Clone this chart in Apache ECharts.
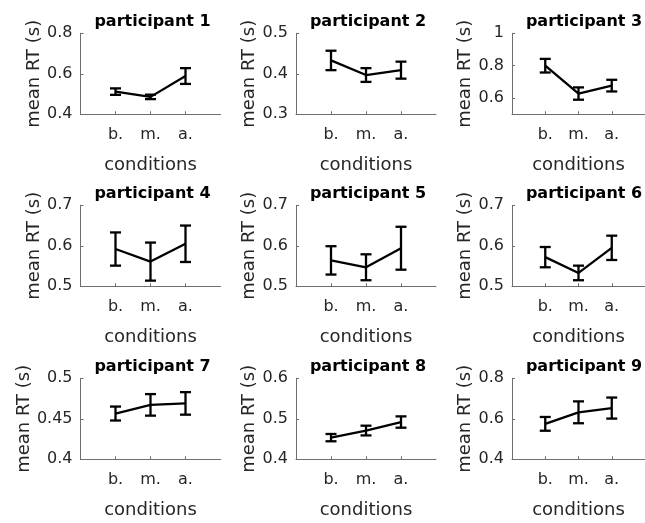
<!DOCTYPE html>
<html>
<head>
<meta charset="utf-8">
<script src="https://cdn.jsdelivr.net/npm/echarts@6/dist/echarts.min.js"></script>
<style>
  html, body { margin: 0; padding: 0; background: #fff; }
  #chart { width: 645px; height: 523px; }
</style>
</head>
<body>
<div id="chart"></div>
<script>
// Conditions on the x axis of every panel
const categories = ['b.', 'm.', 'a.'];

// Mean reaction time (s) and error-bar half-length per participant
const meanRT1 = [0.512, 0.486, 0.589];
const errRT1  = [0.016, 0.011, 0.039];
const meanRT2 = [0.433, 0.397, 0.409];
const errRT2  = [0.024, 0.017, 0.021];
const meanRT3 = [0.800, 0.628, 0.677];
const errRT3  = [0.042, 0.038, 0.036];
const meanRT4 = [0.592, 0.561, 0.605];
const errRT4  = [0.041, 0.047, 0.045];
const meanRT5 = [0.564, 0.547, 0.594];
const errRT5  = [0.035, 0.032, 0.053];
const meanRT6 = [0.572, 0.533, 0.595];
const errRT6  = [0.025, 0.018, 0.030];
const meanRT7 = [0.4565, 0.4672, 0.4690];
const errRT7  = [0.0086, 0.0133, 0.0139];
const meanRT8 = [0.4535, 0.471, 0.492];
const errRT8  = [0.009, 0.012, 0.014];
const meanRT9 = [0.575, 0.632, 0.653];
const errRT9  = [0.034, 0.054, 0.052];

// Y-axis limits and tick labels per participant
const yMin = [0.4, 0.3, 0.5, 0.5, 0.5, 0.5, 0.4, 0.4, 0.4];
const yMax = [0.8, 0.5, 1.0, 0.7, 0.7, 0.7, 0.5, 0.6, 0.8];
const yTicks1 = [0.4, 0.6, 0.8];
const yTicks2 = [0.3, 0.4, 0.5];
const yTicks3 = [0.6, 0.8, 1];
const yTicks4 = [0.5, 0.6, 0.7];
const yTicks5 = [0.5, 0.6, 0.7];
const yTicks6 = [0.5, 0.6, 0.7];
const yTicks7 = [0.4, 0.45, 0.5];
const yTicks8 = [0.4, 0.5, 0.6];
const yTicks9 = [0.4, 0.6, 0.8];

const means = [meanRT1, meanRT2, meanRT3, meanRT4, meanRT5, meanRT6, meanRT7, meanRT8, meanRT9];
const errs = [errRT1, errRT2, errRT3, errRT4, errRT5, errRT6, errRT7, errRT8, errRT9];
const yTicks = [yTicks1, yTicks2, yTicks3, yTicks4, yTicks5, yTicks6, yTicks7, yTicks8, yTicks9];

const FONT = 'DejaVu Sans';
const TEXT = '#262626';
const AXIS = '#6e6e6e';

// Panel layout (3 x 3 small multiples)
const colLeft = [80.5, 296, 512];
const rowTop = [33.3, 205.3, 378.3];
const plotW = 140;
const plotH = 81;

const grids = [], xAxes = [], yAxes = [], titles = [], series = [];

for (let i = 0; i < 9; i++) {
  const r = Math.floor(i / 3), c = i % 3;
  const left = colLeft[c], top = rowTop[r];
  grids.push({ left: left, top: top, width: plotW, height: plotH, containLabel: false });

  titles.push({
    text: 'participant ' + (i + 1),
    left: left + plotW / 2 - 3,
    top: top - 24,
    textAlign: 'center',
    textStyle: { fontFamily: FONT, fontWeight: 'bold', fontSize: 16, color: '#000' }
  });

  xAxes.push({
    gridIndex: i,
    type: 'value',
    min: 0,
    max: 4,
    name: 'conditions',
    nameLocation: 'middle',
    nameGap: 42,
    nameTextStyle: { fontFamily: FONT, fontSize: 18, color: TEXT },
    axisLine: { lineStyle: { color: AXIS, width: 1 } },
    axisTick: { show: true, inside: true, length: 3, customValues: [1, 2, 3], lineStyle: { color: AXIS } },
    axisLabel: {
      customValues: [1, 2, 3],
      formatter: v => categories[Math.round(v) - 1] || '',
      fontFamily: FONT, fontSize: 16, color: TEXT, margin: 13
    },
    splitLine: { show: false }
  });

  yAxes.push({
    gridIndex: i,
    type: 'value',
    min: yMin[i],
    max: yMax[i],
    name: 'mean RT (s)',
    nameLocation: 'middle',
    nameGap: 37,
    nameTextStyle: { fontFamily: FONT, fontSize: 18, color: TEXT },
    axisLine: { show: true, lineStyle: { color: AXIS, width: 1 } },
    axisTick: { show: true, inside: true, length: 3, customValues: yTicks[i], lineStyle: { color: AXIS } },
    axisLabel: {
      customValues: yTicks[i],
      formatter: v => String(+v.toFixed(2)),
      fontFamily: FONT, fontSize: 16, color: TEXT, margin: 8
    },
    splitLine: { show: false }
  });

  const pts = means[i].map((m, k) => [k + 1, m, errs[i][k]]);

  series.push({
    type: 'line',
    xAxisIndex: i,
    yAxisIndex: i,
    data: pts.map(p => [p[0], p[1]]),
    showSymbol: false,
    lineStyle: { color: '#000', width: 2.3 },
    silent: true,
    animation: false
  });

  series.push({
    type: 'custom',
    xAxisIndex: i,
    yAxisIndex: i,
    data: pts,
    encode: { x: 0, y: 1 },
    animation: false,
    silent: true,
    renderItem: function (params, api) {
      const x = api.value(0), m = api.value(1), e = api.value(2);
      const hi = api.coord([x, m + e]);
      const lo = api.coord([x, m - e]);
      const cap = 5.5;
      const style = { stroke: '#000', lineWidth: 2.3 };
      return {
        type: 'group',
        children: [
          { type: 'line', shape: { x1: hi[0], y1: hi[1], x2: lo[0], y2: lo[1] }, style: style },
          { type: 'line', shape: { x1: hi[0] - cap, y1: hi[1], x2: hi[0] + cap, y2: hi[1] }, style: style },
          { type: 'line', shape: { x1: lo[0] - cap, y1: lo[1], x2: lo[0] + cap, y2: lo[1] }, style: style }
        ]
      };
    }
  });
}

const chart = echarts.init(document.getElementById('chart'), null, { renderer: 'canvas' });
chart.setOption({
  backgroundColor: '#fff',
  animation: false,
  title: titles,
  grid: grids,
  xAxis: xAxes,
  yAxis: yAxes,
  series: series
});
</script>
</body>
</html>
